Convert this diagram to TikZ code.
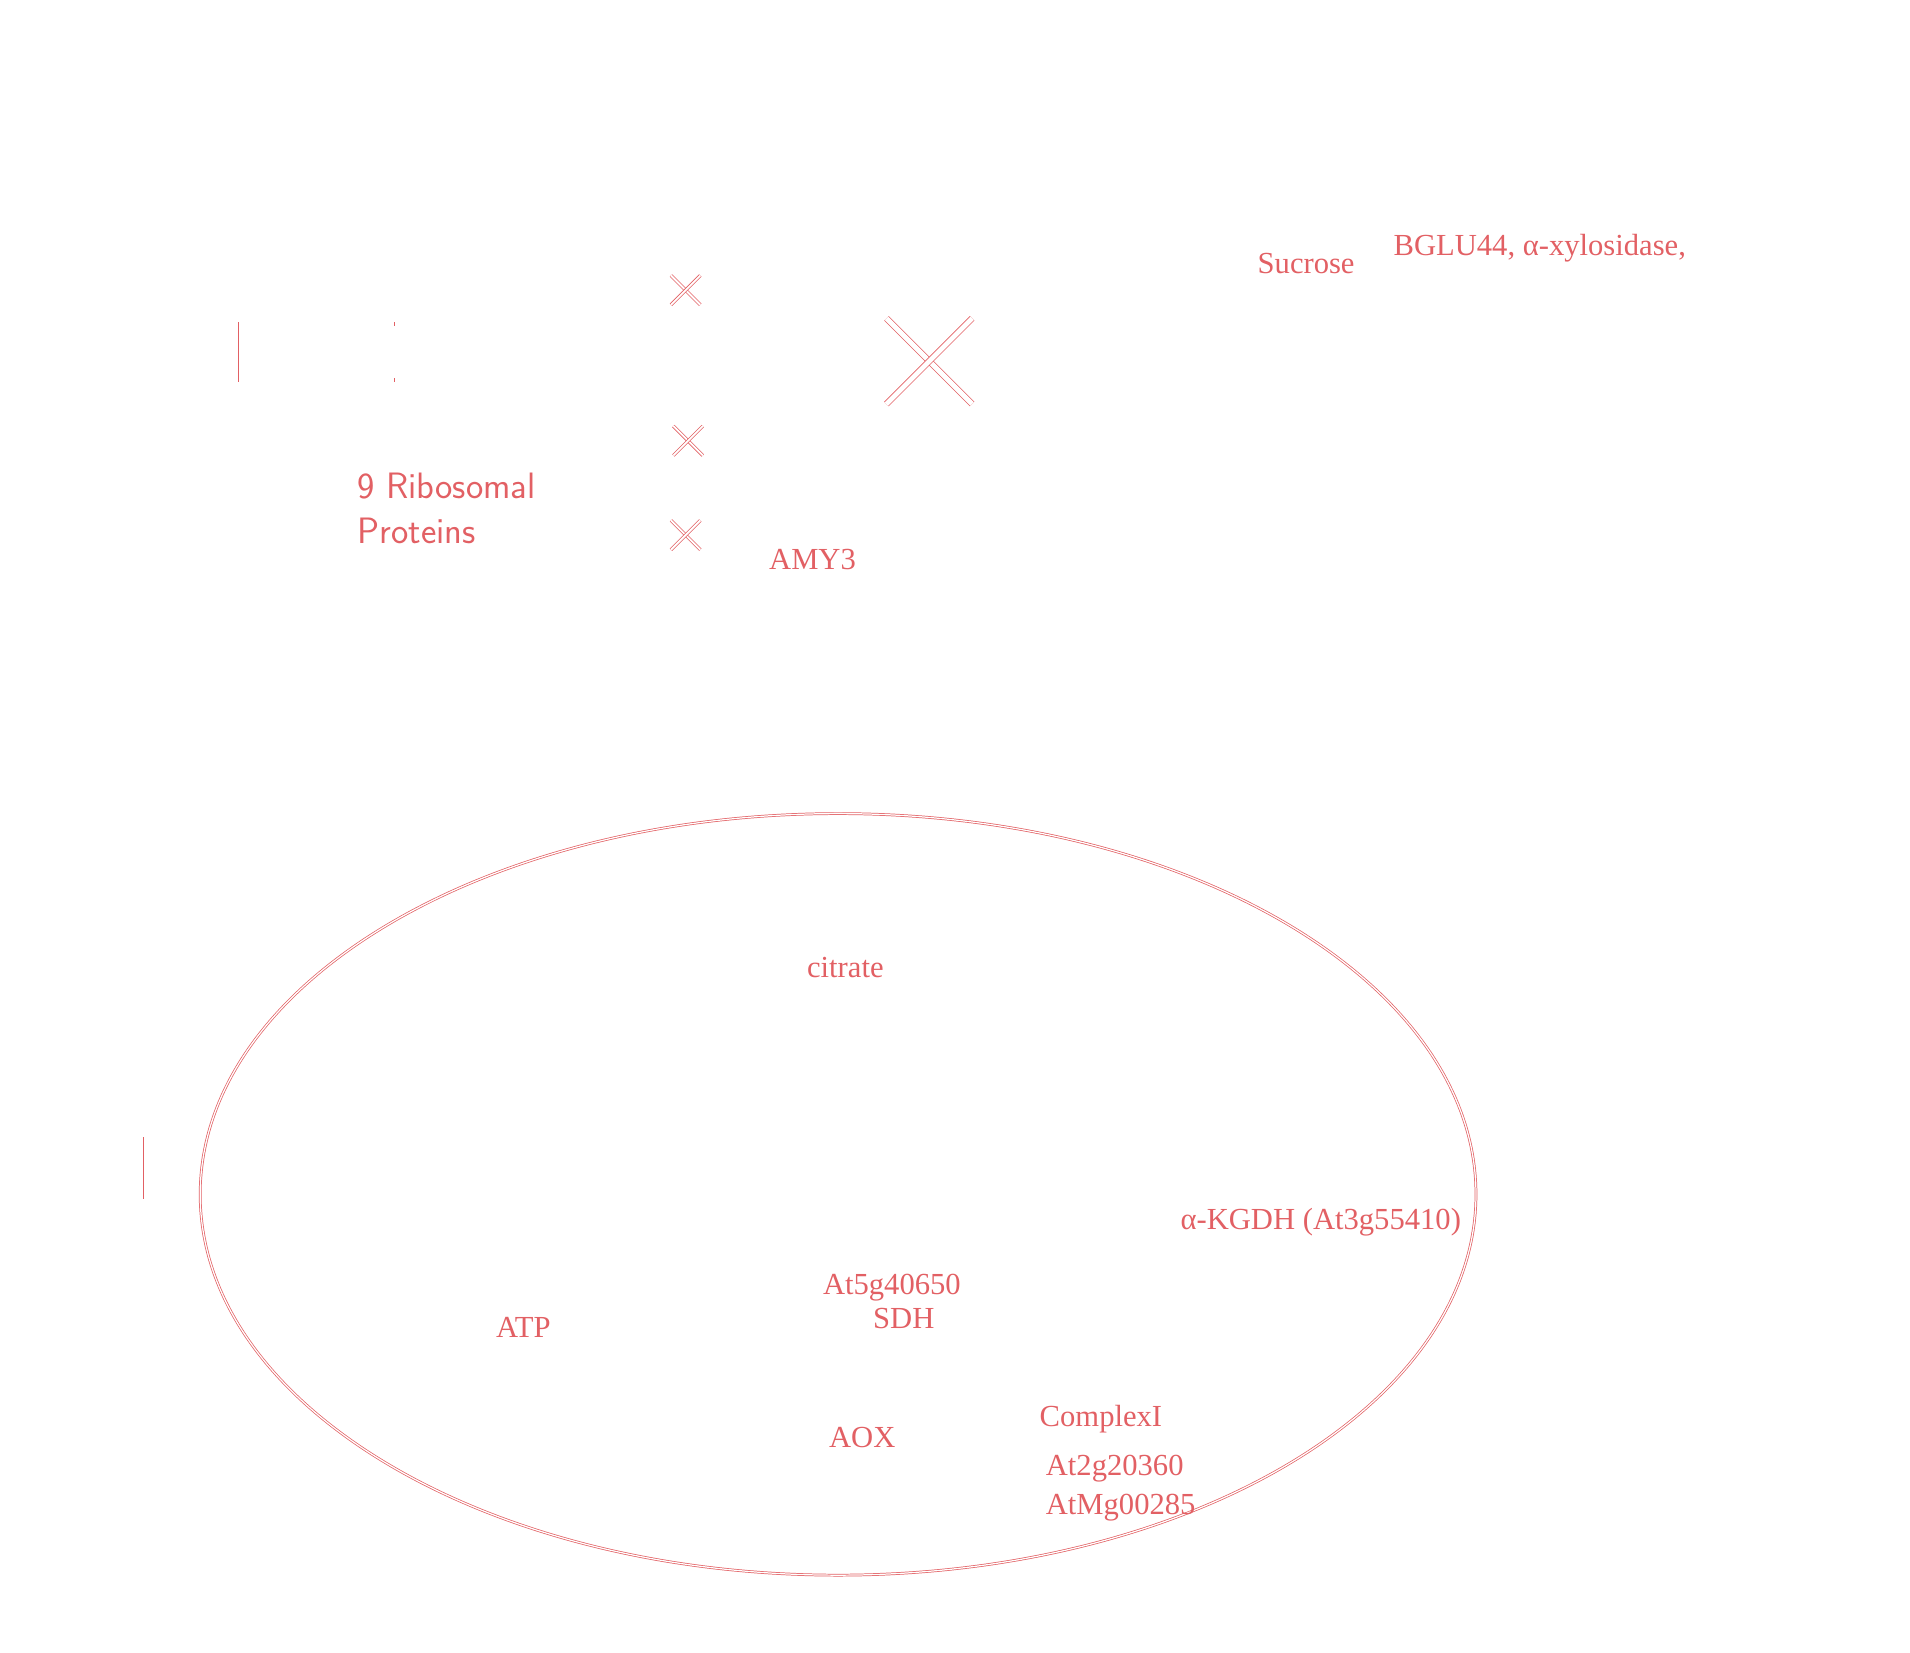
\documentclass[tikz,border=0pt]{standalone}
\usepackage{fontspec}
\setmainfont{Liberation Serif}
\usepackage{tikz}
\usetikzlibrary{calc}

\definecolor{ink}{RGB}{226,96,100}

\begin{document}
\begin{tikzpicture}[x=1pt,y=-1pt,
		every node/.style = {inner sep = 0, anchor = base west, text = ink},
		label/.style = {font = \fontsize{25}{30}\selectfont},
		sanslabel/.style = {font = \sffamily\fontsize{30}{36}\selectfont},
		outline/.style = {draw = ink, line width = .6pt, double = white, double distance = #1}]
		\def\xradius{521}
		\def\yradius{311}
		\def\smallcross{12}
		\def\bigcross{35}
		
		\useasboundingbox (0,0) rectangle (1560,1350);
		
		\coordinate (Mito) at (684.5,975.5);
		\coordinate (Block) at (759,295);
		\coordinate (CrossA) at (560,237);
		\coordinate (CrossB) at (562,360);
		\coordinate (CrossC) at (560,437);
		
		% crosses
		\foreach \c in {CrossA,CrossB,CrossC} {
			\draw[outline = 1.5pt] ($(\c) + (-\smallcross,-\smallcross)$) -- ($(\c) + (\smallcross,\smallcross)$);
			\draw[outline = 1.5pt] ($(\c) + (\smallcross,-\smallcross)$) -- ($(\c) + (-\smallcross,\smallcross)$);
		}
		\draw[outline = 4pt] ($(Block) + (-\bigcross,-\bigcross)$) -- ($(Block) + (\bigcross,\bigcross)$);
		\draw[outline = 4pt] ($(Block) + (\bigcross,-\bigcross)$) -- ($(Block) + (-\bigcross,\bigcross)$);
		
		% left marks
		\draw[ink, line width = .8pt] (195,263) -- (195,312);
		\draw[ink, line width = .8pt] (322,263) -- ++(0,3);
		\draw[ink, line width = .8pt] (322,309) -- ++(0,3);
		\draw[ink, line width = .8pt] (117,929) -- (117,979);
		
		% mitochondrion
		\draw[outline = 1pt] (Mito) ellipse [x radius = \xradius, y radius = \yradius];
		
		\node[sanslabel] (ribo) at (292,407) {9 Ribosomal};
		\node[sanslabel] (prot) at (292,444) {Proteins};
		\node[label] (amy) at (628,465) {AMY3};
		\node[label] (suc) at (1027,223) {Sucrose};
		\node[label] (bglu) at (1138,209) {BGLU44, α-xylosidase,};
		
		\node[label] (cit) at (659,798) {citrate};
		\node[label] (kgdh) at (964,1004) {α-KGDH (At3g55410)};
		\node[label] (sdhid) at (672,1057) {At5g40650};
		\node[label] (sdh) at (713,1085) {SDH};
		\node[label] (atp) at (405,1092) {ATP};
		\node[label] (aox) at (677,1182) {AOX};
		\node[label] (cone) at (849,1165) {ComplexI};
		\node[label] (conea) at (854,1205) {At2g20360};
		\node[label] (coneb) at (854,1237) {AtMg00285};
	\end{tikzpicture}
\end{document}
